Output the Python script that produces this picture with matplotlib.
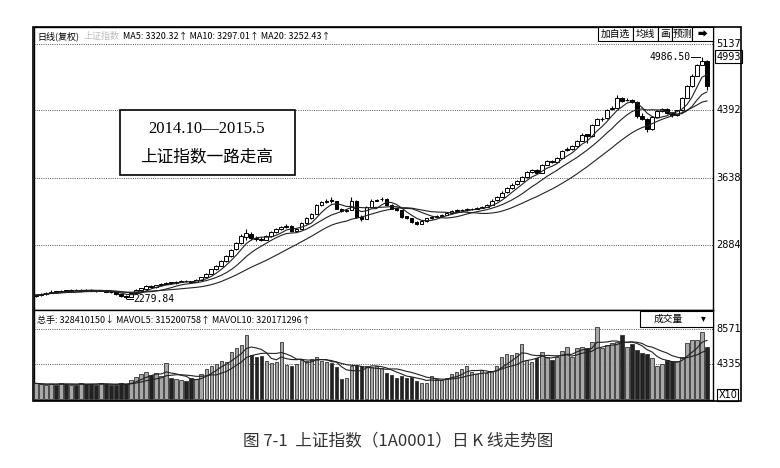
import matplotlib
matplotlib.use('Agg')
import matplotlib.pyplot as plt
import matplotlib.transforms as mtransforms
from matplotlib.patches import Rectangle
import numpy as np
import pandas as pd

plt.rcParams['font.family'] = ['Noto Sans CJK SC', 'DejaVu Sans']

# daily candles
opens = [2310, 2318, 2332, 2345, 2362, 2356, 2372, 2364, 2376, 2370,
         2382, 2378, 2372, 2366, 2372, 2360, 2350, 2330, 2306, 2302,
         2338, 2380, 2394, 2422, 2410, 2432, 2444, 2462, 2454, 2470,
         2482, 2476, 2468, 2490, 2520, 2562, 2612, 2650, 2702, 2760,
         2832, 2905, 2970, 3010, 2958, 2952, 2940, 2982, 3032, 3062,
         3082, 3098, 3038, 3062, 3130, 3182, 3232, 3328, 3360, 3382,
         3370, 3290, 3262, 3274, 3380, 3200, 3172, 3312, 3380, 3392,
         3398, 3330, 3292, 3270, 3202, 3180, 3142, 3120, 3150, 3182,
         3200, 3210, 3222, 3240, 3262, 3270, 3276, 3280, 3290, 3302,
         3310, 3332, 3382, 3422, 3472, 3522, 3562, 3602, 3642, 3702,
         3722, 3692, 3782, 3822, 3812, 3862, 3942, 3962, 3992, 4052,
         4122, 4102, 4232, 4292, 4302, 4402, 4422, 4530, 4502, 4512,
         4490, 4330, 4300, 4180, 4322, 4380, 4410, 4360, 4340, 4392,
         4532, 4662, 4782, 4902, 4950]
highs = [2335, 2340, 2352, 2372, 2368, 2382, 2380, 2388, 2385, 2392,
         2390, 2384, 2378, 2382, 2376, 2364, 2352, 2334, 2318, 2348,
         2388, 2402, 2428, 2430, 2438, 2452, 2470, 2468, 2478, 2490,
         2488, 2482, 2498, 2528, 2568, 2618, 2660, 2712, 2772, 2842,
         2920, 3010, 3060, 3030, 2985, 2970, 2992, 3042, 3072, 3095,
         3118, 3104, 3072, 3142, 3192, 3245, 3345, 3376, 3395, 3420,
         3378, 3300, 3284, 3420, 3388, 3215, 3322, 3392, 3402, 3415,
         3404, 3340, 3298, 3276, 3210, 3186, 3150, 3160, 3190, 3212,
         3222, 3232, 3250, 3272, 3282, 3286, 3292, 3302, 3312, 3320,
         3342, 3392, 3432, 3482, 3532, 3572, 3612, 3652, 3712, 3735,
         3730, 3792, 3834, 3830, 3872, 3952, 3975, 4005, 4062, 4135,
         4130, 4242, 4302, 4320, 4412, 4435, 4560, 4545, 4525, 4520,
         4500, 4360, 4310, 4330, 4390, 4420, 4418, 4372, 4400, 4542,
         4672, 4795, 4912, 4986.5, 4958]
lows = [2300, 2312, 2325, 2340, 2348, 2350, 2358, 2360, 2365, 2366,
        2370, 2362, 2360, 2362, 2352, 2342, 2322, 2296, 2279.84, 2298,
        2334, 2372, 2390, 2402, 2404, 2426, 2440, 2446, 2450, 2464,
        2468, 2460, 2464, 2486, 2516, 2556, 2604, 2646, 2696, 2752,
        2826, 2895, 2940, 2940, 2930, 2925, 2935, 2976, 3020, 3050,
        3074, 3030, 3026, 3056, 3122, 3176, 3226, 3318, 3350, 3350,
        3280, 3250, 3252, 3270, 3190, 3150, 3168, 3306, 3370, 3380,
        3320, 3280, 3262, 3190, 3168, 3130, 3108, 3114, 3144, 3176,
        3192, 3202, 3216, 3234, 3254, 3262, 3268, 3274, 3284, 3294,
        3304, 3326, 3376, 3416, 3466, 3514, 3554, 3594, 3636, 3694,
        3680, 3686, 3776, 3798, 3806, 3856, 3934, 3950, 3986, 4046,
        4020, 4096, 4226, 4270, 4296, 4390, 4416, 4490, 4492, 4478,
        4310, 4280, 4150, 4170, 4314, 4370, 4350, 4320, 4332, 4386,
        4526, 4656, 4776, 4896, 4620]
closes = [2320, 2330, 2345, 2360, 2355, 2370, 2365, 2375, 2372, 2380,
          2378, 2370, 2368, 2372, 2360, 2350, 2330, 2305, 2300, 2340,
          2380, 2395, 2420, 2410, 2430, 2445, 2460, 2455, 2470, 2480,
          2475, 2470, 2490, 2520, 2560, 2610, 2650, 2700, 2760, 2830,
          2900, 2980, 3020, 2960, 2950, 2940, 2980, 3030, 3060, 3080,
          3100, 3040, 3060, 3130, 3180, 3230, 3330, 3360, 3380, 3370,
          3290, 3260, 3270, 3380, 3200, 3170, 3310, 3380, 3390, 3400,
          3330, 3290, 3270, 3200, 3180, 3140, 3120, 3150, 3180, 3200,
          3210, 3220, 3240, 3260, 3270, 3275, 3280, 3290, 3300, 3310,
          3330, 3380, 3420, 3470, 3520, 3560, 3600, 3640, 3700, 3720,
          3690, 3780, 3820, 3810, 3860, 3940, 3960, 3990, 4050, 4120,
          4100, 4230, 4290, 4300, 4400, 4420, 4530, 4500, 4510, 4490,
          4330, 4300, 4180, 4320, 4380, 4410, 4360, 4340, 4390, 4530,
          4660, 4780, 4900, 4950, 4660]
volumes = [1900, 1800, 1700, 1850, 1750, 1950, 1800, 1700, 1750, 1900,
           1800, 1850, 1700, 2000, 1800, 1650, 1750, 1900, 1800, 2300,
           2700, 3100, 3300, 2900, 3200, 2800, 4350, 2600, 2400, 2300,
           2200, 2500, 2400, 3000, 3700, 4000, 4300, 4700, 4500, 5800,
           6200, 6600, 7900, 5400, 5200, 5300, 4600, 4400, 4500, 7000,
           4200, 4100, 4300, 4800, 4700, 4900, 5200, 4600, 4500, 4400,
           3900, 2400, 2600, 4100, 4200, 4000, 4100, 3900, 4000, 3800,
           3200, 2900, 2600, 2800, 2500, 2700, 2200, 2000, 1900, 2800,
           2400, 2300, 2500, 3100, 3300, 3700, 4000, 3300, 3100, 3500,
           3200, 3400, 4000, 5100, 5500, 5400, 5600, 6700, 4800, 4500,
           5000, 5800, 5100, 4800, 5200, 5900, 6400, 5100, 6300, 6400,
           6300, 7000, 8800, 6300, 6600, 6900, 7000, 7900, 6400, 6800,
           6000, 5600, 5500, 5000, 4100, 4300, 4800, 4700, 4600, 5200,
           6900, 7200, 7300, 8200, 6400]

price_ticks = [5137, 4392, 3638, 2884]
vol_ticks = [8571, 4335]

W, H = 780, 468


def box(x0, y0, x1, y1):
    return [x0 / W, 1 - y1 / H, (x1 - x0) / W, (y1 - y0) / H]


def fx(x):
    return x / W


def fy(y):
    return 1 - y / H


fig = plt.figure(figsize=(7.8, 4.68), dpi=100)
ax = fig.add_axes(box(34, 27, 713, 310))
axv = fig.add_axes(box(34, 310, 713, 400))

x = np.arange(len(closes))
o = np.array(opens)
c = np.array(closes)
up = c >= o

# candles
ax.vlines(x, lows, highs, color='black', lw=0.8, zorder=2)
ax.bar(x, np.abs(c - o), bottom=np.minimum(o, c), width=0.75,
       color=np.where(up, 'white', 'black'), edgecolor='black', lw=0.7, zorder=3)

cs = pd.Series(closes)
for n in (5, 10, 20):
    ax.plot(x, cs.rolling(n, min_periods=1).mean(), color='#222222', lw=0.8, zorder=4)

for v in price_ticks:
    ax.axhline(v, color='#555555', lw=0.7, ls=(0, (1, 1.3)), zorder=1)

ax.set_xlim(-0.4, 135.2)
ax.set_ylim(2153, 5326)
ax.set_xticks([])
ax.set_yticks([])

# volume
vs = pd.Series(volumes)
axv.bar(x, volumes, width=0.7, color=np.where(up, '#a8a8a8', '#222222'),
        edgecolor='#333333', lw=0.6, zorder=3)
for n in (5, 10):
    axv.plot(x, vs.rolling(n, min_periods=1).mean(), color='#222222', lw=0.8, zorder=4)
for v in vol_ticks:
    axv.axhline(v, color='#555555', lw=0.7, ls=(0, (1, 1.3)), zorder=1)
axv.set_xlim(-0.4, 135.2)
axv.set_ylim(-150, 10940)
axv.set_xticks([])
axv.set_yticks([])

for a in (ax, axv):
    for s in a.spines.values():
        s.set_linewidth(1.0)

# right-hand scale
tr = mtransforms.blended_transform_factory(ax.transAxes, ax.transData)
for v in price_ticks:
    ax.text(1.005, v, str(v), transform=tr, fontsize=7, va='center', ha='left',
            family='DejaVu Sans')
ax.text(1.005, 4993, '4993', transform=tr, fontsize=7, va='center', ha='left',
        family='DejaVu Sans',
        bbox=dict(boxstyle='square,pad=0.15', fc='white', ec='black', lw=0.8))
trv = mtransforms.blended_transform_factory(axv.transAxes, axv.transData)
for v in vol_ticks:
    axv.text(1.005, v, str(v), transform=trv, fontsize=7, va='center', ha='left',
             family='DejaVu Sans')
axv.text(1.008, 450, 'X10', transform=trv, fontsize=7, va='center', ha='left',
         family='DejaVu Sans',
         bbox=dict(boxstyle='square,pad=0.12', fc='white', ec='black', lw=0.8))

# high / low marks
ax.plot([130.9, 132.7], [4986.5, 4986.5], color='black', lw=0.7)
ax.text(130.8, 4986.5, '4986.50', fontsize=7, va='center', ha='right',
        family='DejaVu Sans Mono')
ax.plot([18.2, 19.3], [2279.84, 2279.84], color='black', lw=0.7)
ax.text(19.4, 2279.84, '2279.84', fontsize=7, va='center', ha='left',
        family='DejaVu Sans Mono')

# note box
ax.add_patch(Rectangle((fx(120), fy(175)), fx(295) - fx(120), fy(110) - fy(175),
                       transform=fig.transFigure, fc='white', ec='black', lw=1.2, zorder=6))
fig.text(fx(207), fy(129), '2014.10—2015.5', fontsize=12, ha='center', va='center',
         family='Liberation Serif', zorder=7)
fig.text(fx(207), fy(157), '上证指数一路走高', fontsize=12, ha='center', va='center',
         zorder=7)

# header rows
fig.text(fx(37), fy(36), '日线(复权)', fontsize=6.5, va='center')
fig.text(fx(84), fy(36), '上证指数', fontsize=6.5, va='center', color='#bbbbbb')
fig.text(fx(123), fy(36), 'MA5: 3320.32↑ MA10: 3297.01↑ MA20: 3252.43↑',
         fontsize=6.5, va='center')
fig.text(fx(37), fy(320), '总手: 328410150↓ MAVOL5: 315200758↑ MAVOL10: 320171296↑',
         fontsize=6.5, va='center')

# buttons
buttons = ['加自选', '均线', '画', '预测', '➡']
edges = [598, 633, 658, 672, 692, 713]
for i, b in enumerate(buttons):
    fig.patches.append(Rectangle((fx(edges[i]), fy(41)), fx(edges[i + 1]) - fx(edges[i]),
                                 fy(27) - fy(41), transform=fig.transFigure,
                                 fc='white', ec='black', lw=0.8))
    fig.text(fx((edges[i] + edges[i + 1]) / 2), fy(34), b, fontsize=7,
             ha='center', va='center')
fig.patches.append(Rectangle((fx(640), fy(327)), fx(713) - fx(640), fy(311) - fy(327),
                             transform=fig.transFigure, fc='white', ec='black', lw=0.8))
fig.text(fx(668), fy(319), '成交量', fontsize=7, ha='center', va='center')
fig.text(fx(703), fy(318), '▾', fontsize=7, ha='center', va='center')

# outer frame
fig.patches.append(Rectangle((fx(33), fy(401)), fx(741) - fx(33), fy(27) - fy(401),
                             transform=fig.transFigure, fill=False, ec='black', lw=1.2))

fig.text(fx(398), fy(441), '图 7-1  上证指数（1A0001）日 K 线走势图', fontsize=12,
         ha='center', va='center', color='#333333')

fig.savefig('out.png', dpi=100, facecolor='white')
